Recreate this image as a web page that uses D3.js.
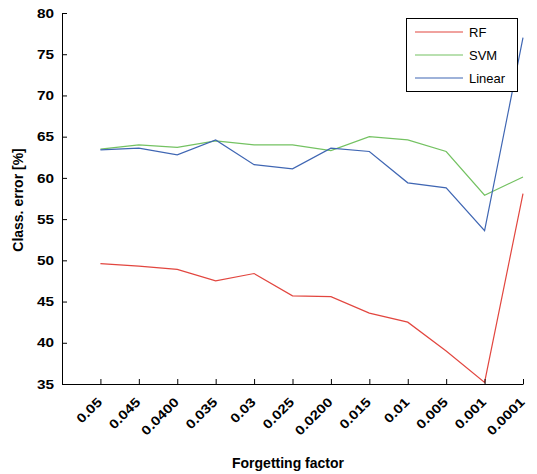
<!DOCTYPE html>
<html>
<head>
<meta charset="utf-8">
<script src="https://cdn.jsdelivr.net/npm/d3@7"></script>
<style>
  body { margin: 0; background: #fff; }
  text { font-family: "Liberation Sans", Arial, sans-serif; }
</style>
</head>
<body>
<div id="chart"></div>
<script>
// forgetting factor categories (x axis)
let factors = ['0.05', '0.045', '0.0400', '0.035', '0.03', '0.025', '0.0200', '0.015', '0.01', '0.005', '0.001', '0.0001'];
// classification error [%] per method
let rfErr     = [49.6, 49.3, 48.9, 47.5, 48.4, 45.7, 45.6, 43.6, 42.5, 39.0, 35.2, 58.1];
let svmErr    = [63.5, 64.0, 63.7, 64.5, 64.0, 64.0, 63.3, 65.0, 64.6, 63.2, 57.9, 60.1];
let linearErr = [63.4, 63.6, 62.8, 64.6, 61.6, 61.1, 63.6, 63.2, 59.4, 58.8, 53.6, 77.0];
let yTicks = [35, 40, 45, 50, 55, 60, 65, 70, 75, 80];

let series = [
    {name: 'RF', values: rfErr, color: '#e2463f'},
    {name: 'SVM', values: svmErr, color: '#74c262'},
    {name: 'Linear', values: linearErr, color: '#3f66b3'}
];

let width = 537, height = 474;
let plotLeft = 62, plotRight = 523, plotTop = 13, plotBottom = 384;
let stretch = 1.18; // tick font in the original is wide

let svg = d3.select('#chart').append('svg')
    .attr('width', width)
    .attr('height', height);

// index based x scale, first point sits one step in from the y axis
let x = d3.scaleLinear().domain([0, factors.length]).range([plotLeft, plotRight]);
let y = d3.scaleLinear().domain([35, 80]).range([plotBottom, plotTop]);

let line = d3.line()
    .x((d, i) => x(i + 1))
    .y(d => y(d));

svg.append('g').selectAll('path')
    .data(series)
    .enter()
    .append('path')
    .attr('d', d => line(d.values))
    .attr('fill', 'none')
    .attr('stroke', d => d.color)
    .attr('stroke-width', 1.2);

// axes, ticks point inward like matlab
let xAxis = d3.axisBottom(x)
    .tickValues(d3.range(1, factors.length + 1))
    .tickFormat(i => factors[i - 1])
    .tickSizeInner(-5)
    .tickSizeOuter(0);

let gx = svg.append('g')
    .attr('transform', 'translate(0,' + plotBottom + ')')
    .call(xAxis);

let yAxis = d3.axisLeft(y)
    .tickValues(yTicks)
    .tickSizeInner(-5)
    .tickSizeOuter(0)
    .tickPadding(8);

let gy = svg.append('g')
    .attr('transform', 'translate(' + plotLeft + ',0)')
    .call(yAxis);

svg.selectAll('.tick text')
    .attr('font-size', 13)
    .attr('font-weight', 'bold')
    .attr('fill', '#000')
    .style('font-family', '"Liberation Sans", Arial, sans-serif');
svg.selectAll('.domain, .tick line').attr('stroke', '#000');

gx.selectAll('text')
    .attr('x', 0).attr('y', 0).attr('dy', null)
    .attr('text-anchor', 'end')
    .attr('transform', 'translate(2,19) rotate(-45) scale(' + stretch + ',1)');
gy.selectAll('text')
    .attr('x', -8 / stretch)
    .attr('transform', 'scale(' + stretch + ',1)');

// axis titles
svg.append('text')
    .attr('x', 288).attr('y', 468)
    .attr('text-anchor', 'middle')
    .attr('font-size', 14)
    .attr('font-weight', 'bold')
    .text('Forgetting factor');

svg.append('text')
    .attr('transform', 'translate(23,200) rotate(-90)')
    .attr('text-anchor', 'middle')
    .attr('font-size', 14)
    .attr('font-weight', 'bold')
    .text('Class. error [%]');

// legend
let legend = svg.append('g');
legend.append('rect')
    .attr('x', 406.5).attr('y', 18.5)
    .attr('width', 111).attr('height', 73)
    .attr('fill', '#fff')
    .attr('stroke', '#000');

let rows = legend.selectAll('g.row')
    .data(series)
    .enter()
    .append('g')
    .attr('class', 'row')
    .attr('transform', (d, i) => 'translate(0,' + (32 + i * 23) + ')');
rows.append('line')
    .attr('x1', 415).attr('x2', 463)
    .attr('stroke', d => d.color)
    .attr('stroke-width', 1.2);
rows.append('text')
    .attr('x', 469).attr('dy', '0.36em')
    .attr('font-size', 13)
    .text(d => d.name);
</script>
</body>
</html>
